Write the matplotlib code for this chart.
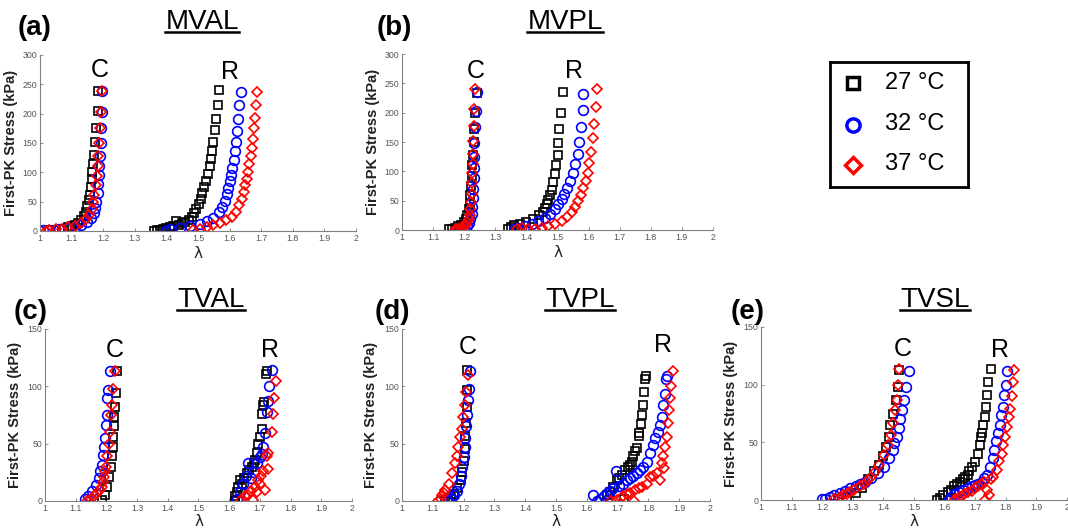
import numpy as np
import matplotlib.pyplot as plt
from matplotlib.lines import Line2D

plt.rcParams['font.family'] = ['Liberation Sans', 'DejaVu Sans']

# ---- data: (stretch lambda, first-PK stress kPa) ----
# (a) MVAL
mval_c_27 = [(1.03, 1), (1.05, 2), (1.07, 4), (1.09, 6), (1.10, 8), (1.11, 10), (1.12, 14), (1.13, 19),
             (1.14, 26), (1.145, 33), (1.15, 42), (1.155, 52), (1.158, 62), (1.161, 75), (1.164, 88),
             (1.166, 100), (1.169, 114), (1.171, 130), (1.174, 152), (1.177, 176), (1.183, 205), (1.184, 239)]
mval_c_32 = [(1.0, 0), (1.01, 1), (1.03, 2), (1.06, 3), (1.09, 5), (1.11, 7), (1.13, 10), (1.15, 15),
             (1.16, 22), (1.17, 30), (1.175, 40), (1.178, 50), (1.182, 65), (1.184, 80), (1.186, 95),
             (1.188, 110), (1.19, 128), (1.192, 150), (1.194, 175), (1.195, 203), (1.196, 238)]
mval_c_37 = [(1.02, 0), (1.03, 2), (1.05, 3), (1.07, 4), (1.09, 6), (1.11, 9), (1.13, 14), (1.145, 20),
             (1.155, 28), (1.163, 38), (1.168, 50), (1.172, 62), (1.176, 78), (1.179, 93), (1.182, 110),
             (1.185, 128), (1.188, 150), (1.19, 175), (1.193, 203), (1.196, 238)]
mval_r_27 = [(1.36, 0), (1.37, 1), (1.38, 2), (1.39, 3), (1.40, 5), (1.41, 7), (1.42, 9), (1.43, 17),
             (1.44, 11), (1.45, 13), (1.46, 16), (1.47, 19), (1.48, 24), (1.488, 30), (1.495, 38),
             (1.502, 46), (1.508, 55), (1.514, 65), (1.52, 75), (1.526, 86), (1.531, 98), (1.537, 110),
             (1.542, 123), (1.545, 136), (1.548, 152), (1.553, 172), (1.557, 191), (1.562, 214), (1.566, 240)]
mval_r_32 = [(1.40, 0), (1.412, 3), (1.444, 5), (1.476, 9), (1.507, 12), (1.528, 17), (1.549, 23),
             (1.565, 32), (1.575, 41), (1.584, 51), (1.591, 63), (1.596, 74), (1.601, 86), (1.606, 96),
             (1.609, 107), (1.613, 121), (1.617, 136), (1.62, 152), (1.624, 170), (1.627, 191),
             (1.631, 214), (1.635, 237)]
mval_r_37 = [(1.485, 1), (1.506, 4), (1.527, 7), (1.549, 10), (1.57, 14), (1.59, 18), (1.607, 24),
             (1.62, 32), (1.631, 44), (1.638, 55), (1.644, 67), (1.649, 78), (1.654, 89), (1.659, 101),
             (1.662, 114), (1.667, 127), (1.67, 142), (1.673, 156), (1.677, 175), (1.68, 193),
             (1.684, 214), (1.688, 237)]

# (b) MVPL
mvpl_c_27 = [(1.15, 1), (1.16, 2), (1.17, 4), (1.18, 6), (1.19, 9), (1.2, 13), (1.205, 18), (1.21, 25),
             (1.215, 35), (1.218, 45), (1.22, 60), (1.222, 75), (1.224, 92), (1.226, 110), (1.228, 128),
             (1.23, 150), (1.233, 172), (1.236, 200), (1.24, 233)]
mvpl_c_32 = [(1.18, 0), (1.19, 2), (1.2, 4), (1.21, 7), (1.215, 12), (1.22, 18), (1.224, 27), (1.226, 40),
             (1.228, 55), (1.229, 70), (1.23, 88), (1.231, 105), (1.232, 125), (1.233, 148), (1.235, 175),
             (1.237, 203), (1.24, 235)]
mvpl_c_37 = [(1.17, 0), (1.175, 1), (1.18, 2), (1.19, 4), (1.2, 6), (1.205, 9), (1.21, 13), (1.215, 18),
             (1.218, 25), (1.22, 35), (1.222, 48), (1.224, 62), (1.225, 80), (1.226, 97), (1.227, 113),
             (1.228, 130), (1.229, 152), (1.231, 178), (1.233, 206), (1.235, 240)]
mvpl_r_27 = [(1.34, 2), (1.35, 5), (1.36, 8), (1.38, 10), (1.40, 13), (1.42, 18), (1.44, 25), (1.452, 30),
             (1.46, 37), (1.465, 44), (1.47, 51), (1.476, 60), (1.481, 69), (1.487, 81), (1.492, 95),
             (1.496, 111), (1.5, 128), (1.503, 148), (1.506, 172), (1.51, 200), (1.517, 235)]
mvpl_r_32 = [(1.36, 1), (1.374, 4), (1.395, 7), (1.417, 11), (1.438, 15), (1.46, 21), (1.476, 27),
             (1.492, 36), (1.503, 44), (1.513, 52), (1.522, 61), (1.532, 72), (1.54, 84), (1.549, 97),
             (1.556, 112), (1.565, 130), (1.57, 150), (1.576, 176), (1.581, 205), (1.583, 232)]
mvpl_r_37 = [(1.37, 1), (1.385, 3), (1.406, 2), (1.428, 2), (1.449, 3), (1.47, 6), (1.492, 10),
             (1.513, 16), (1.53, 23), (1.546, 31), (1.556, 40), (1.567, 49), (1.576, 60), (1.583, 71),
             (1.591, 84), (1.597, 98), (1.602, 115), (1.608, 133), (1.613, 156), (1.617, 181),
             (1.623, 209), (1.626, 240)]

# (c) TVAL
tval_c_27 = [(1.185, 1), (1.195, 5), (1.203, 12), (1.209, 21), (1.214, 30), (1.217, 39), (1.22, 47),
             (1.223, 56), (1.225, 65), (1.226, 73), (1.228, 82), (1.231, 94), (1.233, 113)]
tval_c_32 = [(1.13, 2), (1.14, 4), (1.152, 9), (1.165, 14), (1.175, 20), (1.18, 26), (1.185, 31),
             (1.19, 40), (1.192, 47), (1.195, 55), (1.199, 66), (1.201, 75), (1.203, 90), (1.206, 97),
             (1.212, 113)]
tval_c_37 = [(1.136, 0), (1.15, 2), (1.16, 4), (1.168, 7), (1.178, 10), (1.185, 12), (1.19, 17),
             (1.192, 21), (1.196, 26), (1.199, 30), (1.203, 39), (1.207, 50), (1.212, 60), (1.215, 75),
             (1.217, 84), (1.223, 98), (1.228, 113)]
tval_r_27 = [(1.619, 0), (1.62, 4), (1.625, 8), (1.63, 12), (1.635, 18), (1.642, 15), (1.648, 20),
             (1.657, 24), (1.665, 27), (1.673, 30), (1.68, 33), (1.684, 36), (1.69, 42), (1.695, 50),
             (1.7, 56), (1.706, 63), (1.708, 76), (1.711, 84), (1.714, 86), (1.72, 111), (1.722, 113)]
tval_r_32 = [(1.625, 2), (1.635, 8), (1.646, 15), (1.655, 22), (1.662, 33), (1.67, 20), (1.68, 25),
             (1.69, 33), (1.7, 38), (1.708, 41), (1.711, 47), (1.718, 59), (1.722, 78), (1.727, 87),
             (1.731, 100), (1.738, 114)]
tval_r_37 = [(1.64, 1), (1.65, 4), (1.662, 5), (1.67, 9), (1.678, 1), (1.685, 12), (1.69, 8), (1.695, 18),
             (1.70, 15), (1.705, 22), (1.71, 26), (1.717, 10), (1.722, 39), (1.727, 28), (1.727, 42),
             (1.738, 60), (1.742, 76), (1.746, 90), (1.751, 105)]

# (d) TVPL
tvpl_c_27 = [(1.14, 0), (1.15, 1), (1.16, 3), (1.17, 6), (1.18, 11), (1.19, 18), (1.195, 25), (1.2, 35),
             (1.203, 45), (1.206, 57), (1.208, 68), (1.21, 82), (1.211, 97), (1.212, 114)]
tvpl_c_32 = [(1.15, 0), (1.16, 2), (1.17, 5), (1.18, 9), (1.185, 15), (1.19, 22), (1.195, 30), (1.2, 38),
             (1.203, 47), (1.206, 55), (1.208, 65), (1.211, 75), (1.214, 88), (1.218, 98), (1.221, 113)]
tvpl_c_37 = [(1.118, 0), (1.125, 2), (1.129, 5), (1.135, 7), (1.14, 10), (1.151, 15), (1.161, 24),
             (1.172, 33), (1.178, 39), (1.183, 47), (1.188, 56), (1.194, 63), (1.199, 73), (1.205, 84),
             (1.208, 95), (1.213, 110)]
tvpl_r_27 = [(1.665, 5), (1.675, 8), (1.685, 12), (1.697, 18), (1.705, 20), (1.713, 23), (1.72, 2),
             (1.724, 27), (1.735, 30), (1.74, 31), (1.746, 34), (1.751, 39), (1.757, 44), (1.762, 46),
             (1.768, 57), (1.77, 59), (1.775, 67), (1.779, 75), (1.784, 84), (1.787, 95), (1.789, 106),
             (1.792, 109)]
tvpl_r_32 = [(1.621, 5), (1.632, 0), (1.643, 2), (1.655, 4), (1.665, 7), (1.675, 9), (1.686, 11),
             (1.695, 26), (1.705, 13), (1.719, 15), (1.73, 18), (1.74, 20), (1.75, 22), (1.762, 24),
             (1.772, 27), (1.784, 30), (1.794, 34), (1.805, 42), (1.814, 49), (1.821, 55), (1.83, 60),
             (1.838, 66), (1.843, 73), (1.849, 84), (1.854, 93), (1.856, 106), (1.859, 109)]
tvpl_r_37 = [(1.68, 0), (1.697, 1), (1.71, 3), (1.719, 4), (1.73, 6), (1.74, 7), (1.753, 0), (1.756, 10),
             (1.768, 11), (1.778, 12), (1.794, 15), (1.805, 21), (1.815, 22), (1.827, 24), (1.838, 18),
             (1.843, 33), (1.849, 39), (1.851, 29), (1.854, 47), (1.859, 56), (1.865, 68), (1.868, 79),
             (1.87, 90), (1.872, 100), (1.879, 113)]

# (e) TVSL
tvsl_c_27 = [(1.25, 1), (1.28, 3), (1.31, 6), (1.33, 10), (1.351, 18), (1.368, 25), (1.384, 30),
             (1.399, 38), (1.409, 46), (1.417, 55), (1.422, 65), (1.432, 75), (1.44, 87), (1.448, 98),
             (1.451, 113)]
tvsl_c_32 = [(1.198, 1), (1.21, 1), (1.225, 3), (1.24, 4), (1.258, 6), (1.275, 8), (1.291, 10), (1.31, 12),
             (1.324, 14), (1.34, 16), (1.359, 19), (1.381, 23), (1.403, 29), (1.419, 36), (1.43, 43),
             (1.435, 49), (1.444, 55), (1.451, 62), (1.454, 70), (1.46, 78), (1.467, 87), (1.474, 98),
             (1.484, 112)]
tvsl_c_37 = [(1.24, 1), (1.255, 2), (1.267, 4), (1.28, 5), (1.291, 7), (1.305, 9), (1.322, 12), (1.335, 14),
             (1.349, 17), (1.36, 20), (1.371, 24), (1.387, 30), (1.403, 39), (1.414, 48), (1.425, 56),
             (1.43, 67), (1.437, 78), (1.444, 87), (1.447, 100), (1.451, 114)]
tvsl_r_27 = [(1.574, 0), (1.585, 2), (1.595, 4), (1.61, 7), (1.62, 9), (1.632, 12), (1.642, 14), (1.65, 16),
             (1.66, 18), (1.667, 20), (1.675, 22), (1.681, 25), (1.69, 29), (1.699, 33), (1.708, 40),
             (1.716, 48), (1.718, 55), (1.721, 58), (1.727, 65), (1.732, 72), (1.736, 81), (1.738, 91),
             (1.743, 102), (1.751, 114)]
tvsl_r_32 = [(1.616, 0), (1.621, 3), (1.63, 5), (1.648, 7), (1.66, 9), (1.675, 10), (1.69, 12), (1.699, 13),
             (1.71, 14), (1.721, 16), (1.73, 19), (1.738, 22), (1.749, 29), (1.758, 36), (1.763, 43),
             (1.769, 51), (1.774, 58), (1.781, 65), (1.784, 74), (1.79, 81), (1.794, 91), (1.801, 100),
             (1.803, 112)]
tvsl_r_37 = [(1.635, 1), (1.643, 2), (1.655, 3), (1.665, 5), (1.675, 7), (1.69, 8), (1.7, 10), (1.708, 12),
             (1.718, 14), (1.728, 16), (1.732, 0), (1.738, 9), (1.745, 4), (1.75, 18), (1.759, 20),
             (1.77, 26), (1.779, 34), (1.786, 40), (1.792, 48), (1.797, 55), (1.803, 63), (1.809, 72),
             (1.814, 79), (1.819, 90), (1.822, 102), (1.828, 113)]

temps = ['27 °C', '32 °C', '37 °C']
x_ticks = [1, 1.1, 1.2, 1.3, 1.4, 1.5, 1.6, 1.7, 1.8, 1.9, 2]
x_ticklabels = ['1', '1.1', '1.2', '1.3', '1.4', '1.5', '1.6', '1.7', '1.8', '1.9', '2']
y_ticks_mv = [0, 50, 100, 150, 200, 250, 300]
y_ticks_tv = [0, 50, 100, 150]

styles = [dict(marker='s', color='black', ms=6.0),
          dict(marker='o', color='#0000ff', ms=7.0),
          dict(marker='D', color='red', ms=5.5)]

W, H = 1068, 531
fig = plt.figure(figsize=(W / 100, H / 100), dpi=100)


def px_axes(l, r, b, t):
    return fig.add_axes([l / W, 1 - b / H, (r - l) / W, (b - t) / H])


def panel(ax, groups, ymax, yticks, lab_pos, ylab_x, xlab_y):
    for series in groups:
        for pts, st in zip(series, styles):
            arr = np.array(pts, dtype=float)
            ax.plot(arr[:, 0], arr[:, 1], ls='none', marker=st['marker'], ms=st['ms'],
                    mfc='none', mec=st['color'], mew=1.2)
    ax.set_xlim(1, 2)
    ax.set_ylim(0, ymax)
    ax.set_xticks(x_ticks)
    ax.set_xticklabels(x_ticklabels)
    ax.set_yticks(yticks)
    for s in ['top', 'right']:
        ax.spines[s].set_visible(False)
    for s in ['left', 'bottom']:
        ax.spines[s].set_color('#808080')
        ax.spines[s].set_linewidth(0.8)
    ax.tick_params(direction='in', length=2.5, width=0.6, colors='#808080',
                   labelsize=6.3, labelcolor='#555555', pad=2)
    ax.set_facecolor('none')
    bb = ax.get_position()
    ax.set_ylabel('First-PK Stress (kPa)', fontsize=10.5, fontweight='bold', color='#222222')
    ax.yaxis.set_label_coords(ylab_x / (bb.width * W), 0.5)
    ax.set_xlabel('λ', fontsize=11, family='DejaVu Sans', color='#222222', va='center')
    ax.xaxis.set_label_coords(0.5, xlab_y / (bb.height * H))
    for txt, (x, y) in zip(['C', 'R'], lab_pos):
        ax.text(x, y, txt, fontsize=18, ha='center', va='center')


ax_a = px_axes(40, 356, 231, 55)
panel(ax_a, [[mval_c_27, mval_c_32, mval_c_37], [mval_r_27, mval_r_32, mval_r_37]],
      300, y_ticks_mv, [(1.19, 274), (1.60, 271)], -22, -22)
ax_b = px_axes(402, 713, 230, 54)
panel(ax_b, [[mvpl_c_27, mvpl_c_32, mvpl_c_37], [mvpl_r_27, mvpl_r_32, mvpl_r_37]],
      300, y_ticks_mv, [(1.238, 271), (1.553, 271)], -22, -22)
ax_c = px_axes(45, 352, 501, 329)
panel(ax_c, [[tval_c_27, tval_c_32, tval_c_37], [tval_r_27, tval_r_32, tval_r_37]],
      150, y_ticks_tv, [(1.228, 132), (1.733, 132)], -23, -21)
ax_d = px_axes(402, 710, 501, 329)
panel(ax_d, [[tvpl_c_27, tvpl_c_32, tvpl_c_37], [tvpl_r_27, tvpl_r_32, tvpl_r_37]],
      150, y_ticks_tv, [(1.215, 134), (1.848, 136)], -24, -21)
ax_e = px_axes(761, 1067, 500, 327)
panel(ax_e, [[tvsl_c_27, tvsl_c_32, tvsl_c_37], [tvsl_r_27, tvsl_r_32, tvsl_r_37]],
      150, y_ticks_tv, [(1.463, 131), (1.78, 130)], -23, -21)

# panel letters and underlined titles
letters = [('(a)', 35, 28), ('(b)', 394, 28), ('(c)', 31, 312), ('(d)', 392, 312), ('(e)', 748, 312)]
for s, x, y in letters:
    fig.text(x / W, 1 - y / H, s, fontsize=20, fontweight='bold', ha='center', va='center')

titles = [('MVAL', 202, 22), ('MVPL', 565, 22), ('TVAL', 211, 300), ('TVPL', 580, 300), ('TVSL', 935, 300)]
title_objs = []
for s, x, y in titles:
    title_objs.append(fig.text(x / W, 1 - y / H, s, fontsize=20, ha='center', va='center'))
fig.canvas.draw()
rend = fig.canvas.get_renderer()
for t in title_objs:
    bb = t.get_window_extent(rend)
    yl = (bb.y0 + 3) / H
    fig.add_artist(Line2D([bb.x0 / W, bb.x1 / W], [yl, yl], color='black', lw=1.8))

# legend box
lax = fig.add_axes([830 / W, 1 - 187 / H, 138 / W, 125 / H])
lax.set_xlim(0, 1)
lax.set_ylim(0, 1)
lax.set_xticks([])
lax.set_yticks([])
for s in lax.spines.values():
    s.set_linewidth(2)
    s.set_color('black')
leg_y = [0.83, 0.5, 0.18]
for st, lab, yy in zip(styles, temps, leg_y):
    lax.plot([0.17], [yy], ls='none', marker=st['marker'], ms=st['ms'] + 2.5, mfc='none',
             mec=st['color'], mew=2.5)
    lax.text(0.4, yy, lab, fontsize=17, va='center', ha='left')

fig.savefig('out.png', dpi=100)
